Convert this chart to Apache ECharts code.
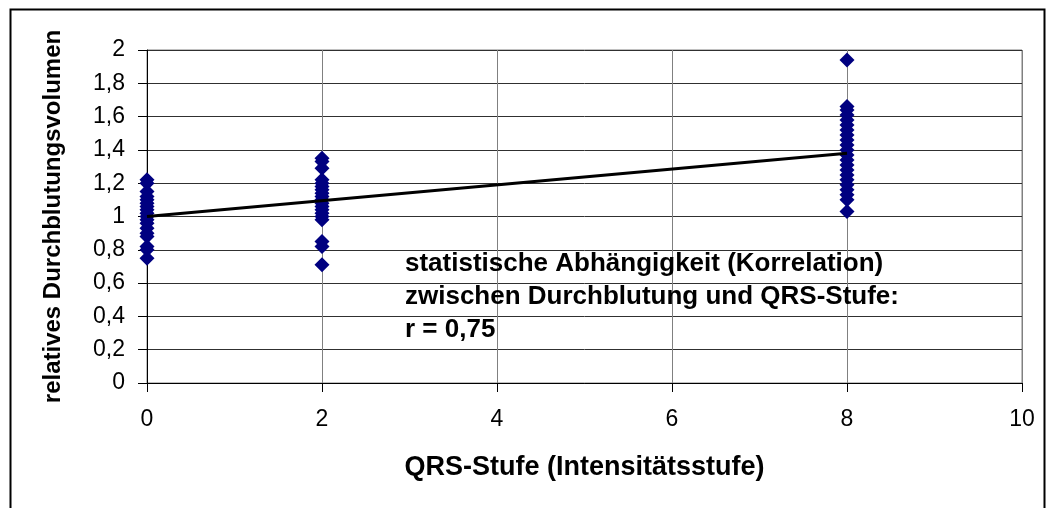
<!DOCTYPE html>
<html>
<head>
<meta charset="utf-8">
<title>Durchblutung / QRS-Stufe</title>
<script src="https://cdn.jsdelivr.net/npm/echarts@6/dist/echarts.min.js"></script>
<style>
  html, body { margin: 0; padding: 0; background: #fff; }
  #chart { width: 1051px; height: 508px; }
</style>
</head>
<body>
<div id="chart"></div>
<script>
var stufe0 = [1.22, 1.2, 1.15, 1.12, 1.1, 1.08, 1.06, 1.04, 1.02, 1.0, 0.98, 0.96, 0.93, 0.9, 0.88, 0.82, 0.8, 0.75];
var stufe2 = [1.35, 1.33, 1.29, 1.22, 1.2, 1.18, 1.16, 1.14, 1.12, 1.1, 1.08, 1.06, 1.04, 1.02, 1.0, 0.98, 0.85, 0.82, 0.71];
var stufe8 = [1.94, 1.66, 1.64, 1.61, 1.58, 1.55, 1.52, 1.49, 1.46, 1.43, 1.4, 1.37, 1.34, 1.31, 1.28, 1.25, 1.22, 1.19, 1.16, 1.13, 1.1, 1.03];
// lineare Trendlinie
var trendX = [0, 8];
var trendY = [1.0, 1.38];
var annotation = [
  "statistische Abhängigkeit (Korrelation)",
  "zwischen Durchblutung und QRS-Stufe:",
  "r = 0,75"
];

function pairs(x, arr) {
  return arr.map(function (v) { return [x, v]; });
}
var points = pairs(0, stufe0).concat(pairs(2, stufe2), pairs(8, stufe8));
var trend = trendX.map(function (x, i) { return [x, trendY[i]]; });

var font = "'Liberation Sans', Arial, sans-serif";
var chart = echarts.init(document.getElementById("chart"));

var option = {
  animation: false,
  backgroundColor: "#fff",
  grid: {
    left: 147, top: 50, right: 29, bottom: 125,
    show: true, borderColor: "#808080", borderWidth: 1
  },
  xAxis: {
    type: "value",
    min: 0, max: 10, interval: 2,
    name: "QRS-Stufe (Intensitätsstufe)",
    nameLocation: "middle",
    nameGap: 71,
    nameTextStyle: { fontFamily: font, fontWeight: "bold", fontSize: 27, color: "#000" },
    axisLine: { show: true, onZero: false, lineStyle: { color: "#000", width: 1 } },
    axisTick: { show: true, length: 9, lineStyle: { color: "#000" } },
    axisLabel: { fontFamily: font, fontSize: 23, color: "#000", margin: 25 },
    splitLine: { show: true, lineStyle: { color: "#808080", width: 1 } }
  },
  yAxis: {
    type: "value",
    min: 0, max: 2, interval: 0.2,
    name: "relatives Durchblutungsvolumen",
    nameLocation: "middle",
    nameGap: 82,
    nameRotate: 90,
    nameTextStyle: { fontFamily: font, fontWeight: "bold", fontSize: 24, color: "#000" },
    axisLine: { show: true, onZero: false, lineStyle: { color: "#000", width: 1 } },
    axisTick: { show: true, length: 9, inside: false, lineStyle: { color: "#000" } },
    axisLabel: {
      fontFamily: font, fontSize: 23, color: "#000", margin: 22,
      formatter: function (v) { return String(Number(v.toFixed(1))).replace(".", ","); }
    },
    splitLine: { show: true, lineStyle: { color: "#303030", width: 1 } }
  },
  series: [
    {
      type: "scatter",
      data: points,
      symbol: "diamond",
      symbolSize: 15,
      itemStyle: { color: "#000080", opacity: 1 },
      z: 3
    },
    {
      type: "line",
      data: trend,
      showSymbol: false,
      symbol: "none",
      lineStyle: { color: "#000", width: 3 },
      z: 4
    }
  ],
  graphic: [
    {
      type: "rect",
      left: 8, top: 7,
      shape: { width: 1034, height: 520 },
      style: { fill: "none", stroke: "#000", lineWidth: 2 },
      silent: true
    },
    {
      type: "text",
      left: 405, top: 247,
      style: {
        text: annotation.join("\n"),
        font: "bold 26px " + font,
        fill: "#000",
        lineHeight: 33
      },
      z: 10
    }
  ]
};

chart.setOption(option);
window.addEventListener("resize", function () { chart.resize(); });
</script>
</body>
</html>
